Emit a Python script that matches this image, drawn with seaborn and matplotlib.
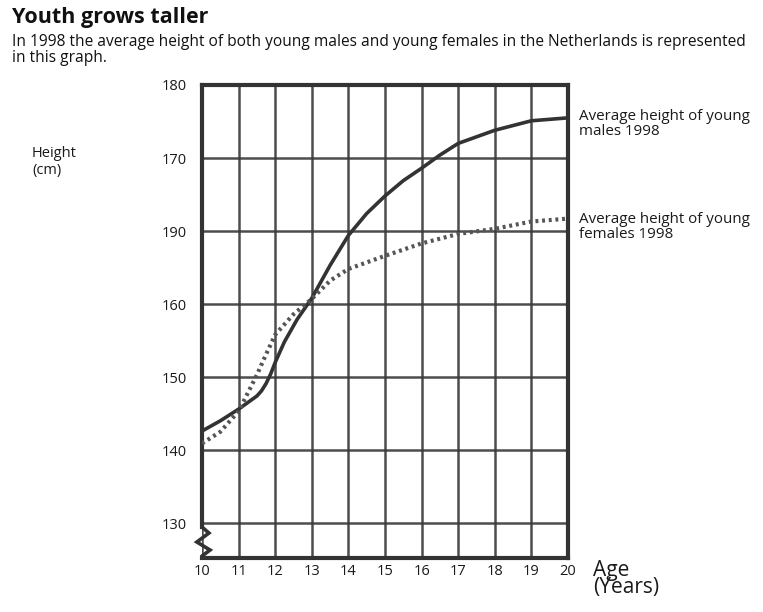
import matplotlib
matplotlib.use("Agg")
import matplotlib.pyplot as plt
import matplotlib.transforms as mtransforms
import seaborn as sns
import pandas as pd

# ---- data ----
age_male = [10, 10.5, 11, 11.5, 11.625, 11.75, 11.875, 12, 12.25, 12.6, 13, 13.5, 14, 14.5, 15, 15.5, 16, 16.5, 17, 18, 19, 20]
height_male = [142.6, 144.0, 145.6, 147.4, 148.1, 149.1, 150.4, 152.0, 154.8, 157.9, 160.8, 165.3, 169.4, 172.4, 174.8, 176.9, 178.6, 180.4, 182.0, 183.8, 185.1, 185.5]

age_female = [10, 10.5, 11, 11.5, 11.75, 12, 12.5, 13, 13.5, 14, 15, 16, 17, 18, 19, 20]
height_female = [140.9, 142.5, 145.3, 150.3, 153.1, 155.8, 158.6, 160.7, 163.2, 164.8, 166.6, 168.3, 169.6, 170.3, 171.3, 171.7]

x_ticks = [10, 11, 12, 13, 14, 15, 16, 17, 18, 19, 20]
y_ticks = [130, 140, 150, 160, 170, 180, 190]
y_tick_labels = ["130", "140", "150", "160", "190", "170", "180"]

title = "Youth grows taller"
subtitle = ("In 1998 the average height of both young males and young females in the Netherlands is represented\n"
            "in this graph.")
label_male = "Average height of young\nmales 1998"
label_female = "Average height of young\nfemales 1998"

# ---- styling ----
sns.set_style("white")
plt.rcParams["font.family"] = ["Open Sans", "DejaVu Sans"]

fig = plt.figure(figsize=(7.63, 6.12), dpi=100)
ax = fig.add_axes([202 / 763, 1 - 558 / 612, (568 - 202) / 763, (558 - 85) / 612])

df_m = pd.DataFrame({"age": age_male, "height": height_male})
df_f = pd.DataFrame({"age": age_female, "height": height_female})

sns.lineplot(data=df_m, x="age", y="height", ax=ax, color="#333333", lw=2.6, zorder=5)
sns.lineplot(data=df_f, x="age", y="height", ax=ax, color="#555555", lw=3.0,
             linestyle=(0, (0.7, 0.9)), zorder=5)

ax.set_xlim(10, 20)
ax.set_ylim(125.21, 190)
ax.set_xticks(x_ticks)
ax.set_xticklabels([str(v) for v in x_ticks], fontsize=10.5, color="#1a1a1a")
ax.set_yticks(y_ticks)
ax.set_yticklabels(y_tick_labels, fontsize=10.5, color="#1a1a1a")
ax.tick_params(length=0, pad=4)
ax.tick_params(axis="y", pad=11)
ax.set_xlabel("")
ax.set_ylabel("")
ax.grid(True, color="#3a3a3a", lw=1.8, alpha=0.9)
ax.set_axisbelow(True)

for s in ax.spines.values():
    s.set_color("#333333")
    s.set_linewidth(3)
ax.spines["left"].set_bounds(129.45, 190)

# zigzag axis break
trans = mtransforms.blended_transform_factory(ax.transAxes, ax.transData)
zx = [0.0, 0.019, -0.014, 0.022, 0.0, 0.0]
zy = [129.45, 128.63, 127.4, 126.3, 125.48, 125.21]
ax.plot(zx, zy, transform=trans, color="#333333", lw=2.6, clip_on=False,
        solid_joinstyle="miter", solid_capstyle="butt")

# texts
fig.text(12 / 763, 1 - 17 / 612, title, fontsize=15.5, fontweight="bold", va="center", ha="left", color="#111111")
fig.text(12 / 763, 1 - 50 / 612, subtitle, fontsize=11.2, va="center", ha="left", color="#111111", linespacing=1.08)
fig.text(32 / 763, 1 - 162 / 612, "Height\n(cm)", fontsize=10.5, va="center", ha="left", color="#1a1a1a", linespacing=1.1)
fig.text(579 / 763, 1 - 124 / 612, label_male, fontsize=10.9, va="center", ha="left", color="#1a1a1a", linespacing=1.0)
fig.text(579 / 763, 1 - 227 / 612, label_female, fontsize=10.9, va="center", ha="left", color="#1a1a1a", linespacing=1.0)
fig.text(593 / 763, 1 - 579 / 612, "Age\n(Years)", fontsize=15, va="center", ha="left", color="#1a1a1a", linespacing=0.78)

fig.savefig("out.png", dpi=100)
